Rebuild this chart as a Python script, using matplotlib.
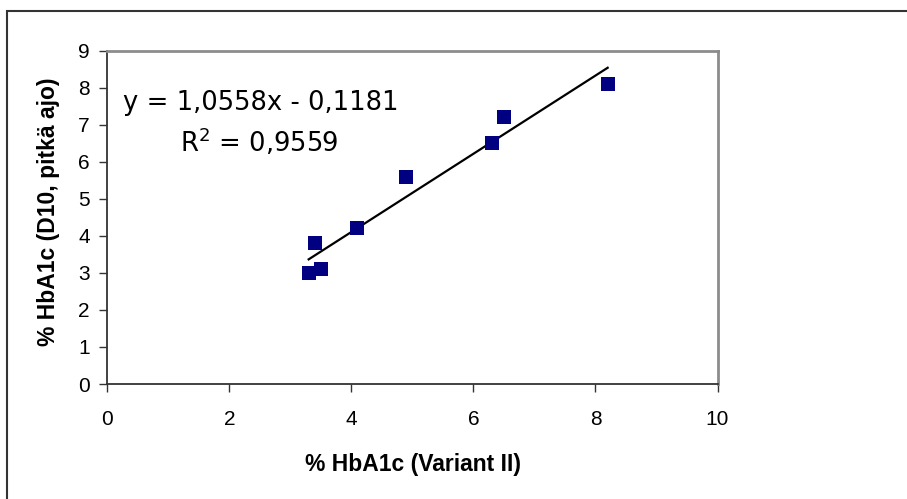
import numpy as np
import matplotlib
matplotlib.use("Agg")
import matplotlib.pyplot as plt
from matplotlib.patches import Rectangle

plt.rcParams['font.family'] = ['Liberation Sans', 'DejaVu Sans']
plt.rcParams['mathtext.fontset'] = 'dejavusans'

### HbA1c values, Variant II vs D10 (long run) ###
variant_ii = [3.3, 3.4, 3.5, 4.1, 4.9, 6.3, 6.5, 8.2]
d10_long = [3.0, 3.8, 3.1, 4.2, 5.6, 6.5, 7.2, 8.1]

# linear trendline from the fitted equation
slope = 1.0558
intercept = -0.1181
r_squared = 0.9559

x_ticks = [0, 2, 4, 6, 8, 10]
y_ticks = [0, 1, 2, 3, 4, 5, 6, 7, 8, 9]

W, H = 907, 499
fig = plt.figure(figsize=(W / 100, H / 100), dpi=100)
ax = fig.add_axes([107.3 / W, 1 - 384 / H, 610.2 / W, 333.3 / H])

ax.plot(variant_ii, d10_long, 's', color='#000080', markersize=10,
        markeredgewidth=0, zorder=3)

fit_x = np.array([min(variant_ii), max(variant_ii)])
ax.plot(fit_x, slope * fit_x + intercept, color='black', linewidth=1.6, zorder=2)

ax.set_xlim(0, 10)
ax.set_ylim(0, 9)
ax.set_xticks(x_ticks)
ax.set_yticks(y_ticks)
ax.tick_params(axis='both', direction='out', length=5.5, width=1,
               color='#333333', labelsize=15)
ax.tick_params(axis='x', pad=13)
ax.tick_params(axis='y', pad=7)

for side in ['left', 'bottom']:
    ax.spines[side].set_color('#333333')
    ax.spines[side].set_linewidth(1.3)
for side in ['top', 'right']:
    ax.spines[side].set_color('#8c8c8c')
    ax.spines[side].set_linewidth(2)

def fmt(v):
    return ('%.4f' % abs(v)).replace('.', ',')

# trendline label (wide face so it spans like the stretched label box)
eq_text = 'y = %sx - %s' % (fmt(slope), fmt(intercept))
fig.text(122.7 / W, 1 - 110 / H, eq_text, fontsize=18.6, family='DejaVu Sans',
         va='baseline', ha='left')
fig.text(180 / W, 1 - 152 / H, 'R$^2$ = ' + fmt(r_squared), fontsize=18.6,
         family='DejaVu Sans', va='baseline', ha='left')

fig.text(413 / W, 1 - 470.7 / H, '% HbA1c (Variant II)', fontsize=16.5,
         fontweight='bold', ha='center', va='baseline')
fig.text(49 / W, 1 - 211.7 / H, '% HbA1c (D10, pitkä ajo)', fontsize=16.5,
         fontweight='bold', ha='center', va='center', rotation=90)

# chart frame (right and bottom edges run off the page)
fig.patches.append(Rectangle((7.3 / W, -0.2), 1.2, 1.2 - 10.7 / H,
                             transform=fig.transFigure, fill=False,
                             edgecolor='#333333', linewidth=1.5))

fig.savefig('out.png', dpi=100)
